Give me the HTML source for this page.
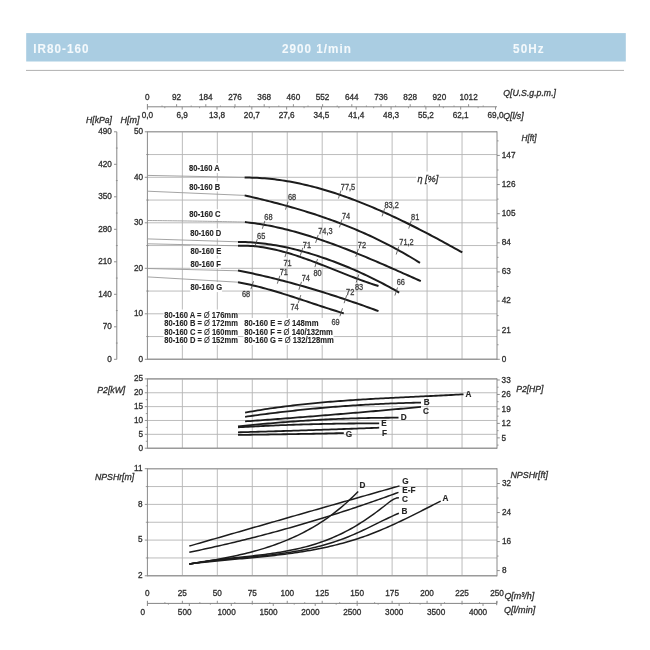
<!DOCTYPE html>
<html><head><meta charset="utf-8"><title>IR80-160</title>
<style>
html,body{margin:0;padding:0;background:#fff;}
svg{display:block;font-family:"Liberation Sans", sans-serif;fill:#2f2f2f;will-change:transform;}
</style></head>
<body>
<svg width="650" height="650" viewBox="0 0 650 650">
<rect width="650" height="650" fill="#fff"/>
<g fill="#2f2f2f" font-family='"Liberation Sans", sans-serif'>
<rect x="26.2" y="33.1" width="599.6" height="28.4" fill="#aacde2"/>
<text transform="translate(33.30,52.80) scale(0.86,1)" font-size="13.6" font-weight="bold" fill="#f4f9fc" textLength="64.19" lengthAdjust="spacing" stroke="#f4f9fc" stroke-width="0.1">IR80-160</text>
<text transform="translate(282.00,52.80) scale(0.86,1)" font-size="13.6" font-weight="bold" fill="#f4f9fc" textLength="80.00" lengthAdjust="spacing" stroke="#f4f9fc" stroke-width="0.1">2900 1/min</text>
<text transform="translate(513.10,52.80) scale(0.86,1)" font-size="13.6" font-weight="bold" fill="#f4f9fc" textLength="35.35" lengthAdjust="spacing" stroke="#f4f9fc" stroke-width="0.1">50Hz</text>
<line x1="26.00" y1="70.40" x2="624.00" y2="70.40" stroke="#b0b0b0" stroke-width="1"/>
<line x1="182.36" y1="131.80" x2="182.36" y2="359.30" stroke="#b4b4b4" stroke-width="0.9"/>
<line x1="217.32" y1="131.80" x2="217.32" y2="359.30" stroke="#b4b4b4" stroke-width="0.9"/>
<line x1="252.28" y1="131.80" x2="252.28" y2="359.30" stroke="#b4b4b4" stroke-width="0.9"/>
<line x1="287.24" y1="131.80" x2="287.24" y2="359.30" stroke="#b4b4b4" stroke-width="0.9"/>
<line x1="322.20" y1="131.80" x2="322.20" y2="359.30" stroke="#b4b4b4" stroke-width="0.9"/>
<line x1="357.16" y1="131.80" x2="357.16" y2="359.30" stroke="#b4b4b4" stroke-width="0.9"/>
<line x1="392.12" y1="131.80" x2="392.12" y2="359.30" stroke="#b4b4b4" stroke-width="0.9"/>
<line x1="427.08" y1="131.80" x2="427.08" y2="359.30" stroke="#b4b4b4" stroke-width="0.9"/>
<line x1="462.04" y1="131.80" x2="462.04" y2="359.30" stroke="#b4b4b4" stroke-width="0.9"/>
<line x1="147.40" y1="336.55" x2="497.00" y2="336.55" stroke="#b4b4b4" stroke-width="0.9"/>
<line x1="147.40" y1="313.80" x2="497.00" y2="313.80" stroke="#b4b4b4" stroke-width="0.9"/>
<line x1="147.40" y1="291.05" x2="497.00" y2="291.05" stroke="#b4b4b4" stroke-width="0.9"/>
<line x1="147.40" y1="268.30" x2="497.00" y2="268.30" stroke="#b4b4b4" stroke-width="0.9"/>
<line x1="147.40" y1="245.55" x2="497.00" y2="245.55" stroke="#b4b4b4" stroke-width="0.9"/>
<line x1="147.40" y1="222.80" x2="497.00" y2="222.80" stroke="#b4b4b4" stroke-width="0.9"/>
<line x1="147.40" y1="200.05" x2="497.00" y2="200.05" stroke="#b4b4b4" stroke-width="0.9"/>
<line x1="147.40" y1="177.30" x2="497.00" y2="177.30" stroke="#b4b4b4" stroke-width="0.9"/>
<line x1="147.40" y1="154.55" x2="497.00" y2="154.55" stroke="#b4b4b4" stroke-width="0.9"/>
<line x1="147.40" y1="131.80" x2="497.00" y2="131.80" stroke="#a4a4a4" stroke-width="1.6"/>
<line x1="147.40" y1="359.30" x2="497.00" y2="359.30" stroke="#9a9a9a" stroke-width="1.4"/>
<line x1="147.40" y1="131.30" x2="147.40" y2="359.80" stroke="#8a8a8a" stroke-width="1.0"/>
<line x1="497.00" y1="131.30" x2="497.00" y2="359.80" stroke="#8a8a8a" stroke-width="1.0"/>
<line x1="144.80" y1="359.30" x2="147.40" y2="359.30" stroke="#858585" stroke-width="0.9"/>
<text x="143.00" y="361.64" font-size="8.2" text-anchor="end" stroke="#2f2f2f" stroke-width="0.3">0</text>
<line x1="144.80" y1="313.80" x2="147.40" y2="313.80" stroke="#858585" stroke-width="0.9"/>
<text x="143.00" y="316.14" font-size="8.2" text-anchor="end" stroke="#2f2f2f" stroke-width="0.3">10</text>
<line x1="144.80" y1="268.30" x2="147.40" y2="268.30" stroke="#858585" stroke-width="0.9"/>
<text x="143.00" y="270.64" font-size="8.2" text-anchor="end" stroke="#2f2f2f" stroke-width="0.3">20</text>
<line x1="144.80" y1="222.80" x2="147.40" y2="222.80" stroke="#858585" stroke-width="0.9"/>
<text x="143.00" y="225.14" font-size="8.2" text-anchor="end" stroke="#2f2f2f" stroke-width="0.3">30</text>
<line x1="144.80" y1="177.30" x2="147.40" y2="177.30" stroke="#858585" stroke-width="0.9"/>
<text x="143.00" y="179.64" font-size="8.2" text-anchor="end" stroke="#2f2f2f" stroke-width="0.3">40</text>
<line x1="144.80" y1="131.80" x2="147.40" y2="131.80" stroke="#858585" stroke-width="0.9"/>
<text x="143.00" y="134.14" font-size="8.2" text-anchor="end" stroke="#2f2f2f" stroke-width="0.3">50</text>
<line x1="146.20" y1="336.55" x2="148.60" y2="336.55" stroke="#858585" stroke-width="0.8"/>
<line x1="146.20" y1="291.05" x2="148.60" y2="291.05" stroke="#858585" stroke-width="0.8"/>
<line x1="146.20" y1="245.55" x2="148.60" y2="245.55" stroke="#858585" stroke-width="0.8"/>
<line x1="146.20" y1="200.05" x2="148.60" y2="200.05" stroke="#858585" stroke-width="0.8"/>
<line x1="146.20" y1="154.55" x2="148.60" y2="154.55" stroke="#858585" stroke-width="0.8"/>
<line x1="116.80" y1="131.80" x2="116.80" y2="359.30" stroke="#858585" stroke-width="1.0"/>
<line x1="114.00" y1="359.30" x2="116.80" y2="359.30" stroke="#858585" stroke-width="0.9"/>
<text x="111.80" y="361.64" font-size="8.2" text-anchor="end" stroke="#2f2f2f" stroke-width="0.3">0</text>
<line x1="114.00" y1="326.80" x2="116.80" y2="326.80" stroke="#858585" stroke-width="0.9"/>
<text x="111.80" y="329.14" font-size="8.2" text-anchor="end" stroke="#2f2f2f" stroke-width="0.3">70</text>
<line x1="114.00" y1="294.30" x2="116.80" y2="294.30" stroke="#858585" stroke-width="0.9"/>
<text x="111.80" y="296.64" font-size="8.2" text-anchor="end" stroke="#2f2f2f" stroke-width="0.3">140</text>
<line x1="114.00" y1="261.80" x2="116.80" y2="261.80" stroke="#858585" stroke-width="0.9"/>
<text x="111.80" y="264.14" font-size="8.2" text-anchor="end" stroke="#2f2f2f" stroke-width="0.3">210</text>
<line x1="114.00" y1="229.30" x2="116.80" y2="229.30" stroke="#858585" stroke-width="0.9"/>
<text x="111.80" y="231.64" font-size="8.2" text-anchor="end" stroke="#2f2f2f" stroke-width="0.3">280</text>
<line x1="114.00" y1="196.80" x2="116.80" y2="196.80" stroke="#858585" stroke-width="0.9"/>
<text x="111.80" y="199.14" font-size="8.2" text-anchor="end" stroke="#2f2f2f" stroke-width="0.3">350</text>
<line x1="114.00" y1="164.30" x2="116.80" y2="164.30" stroke="#858585" stroke-width="0.9"/>
<text x="111.80" y="166.64" font-size="8.2" text-anchor="end" stroke="#2f2f2f" stroke-width="0.3">420</text>
<line x1="114.00" y1="131.80" x2="116.80" y2="131.80" stroke="#858585" stroke-width="0.9"/>
<text x="111.80" y="134.14" font-size="8.2" text-anchor="end" stroke="#2f2f2f" stroke-width="0.3">490</text>
<line x1="115.90" y1="343.05" x2="117.70" y2="343.05" stroke="#858585" stroke-width="0.8"/>
<line x1="115.90" y1="310.55" x2="117.70" y2="310.55" stroke="#858585" stroke-width="0.8"/>
<line x1="115.90" y1="278.05" x2="117.70" y2="278.05" stroke="#858585" stroke-width="0.8"/>
<line x1="115.90" y1="245.55" x2="117.70" y2="245.55" stroke="#858585" stroke-width="0.8"/>
<line x1="115.90" y1="213.05" x2="117.70" y2="213.05" stroke="#858585" stroke-width="0.8"/>
<line x1="115.90" y1="180.55" x2="117.70" y2="180.55" stroke="#858585" stroke-width="0.8"/>
<line x1="115.90" y1="148.05" x2="117.70" y2="148.05" stroke="#858585" stroke-width="0.8"/>
<text x="86.00" y="123.00" font-size="8.8" font-style="italic" textLength="26.00" lengthAdjust="spacingAndGlyphs" stroke="#2f2f2f" stroke-width="0.3">H[kPa]</text>
<text x="120.50" y="123.00" font-size="8.8" font-style="italic" textLength="19.00" lengthAdjust="spacingAndGlyphs" stroke="#2f2f2f" stroke-width="0.3">H[m]</text>
<line x1="497.00" y1="359.30" x2="499.80" y2="359.30" stroke="#858585" stroke-width="0.9"/>
<text x="501.80" y="361.64" font-size="8.2" stroke="#2f2f2f" stroke-width="0.3">0</text>
<line x1="497.00" y1="330.18" x2="499.80" y2="330.18" stroke="#858585" stroke-width="0.9"/>
<text x="501.80" y="332.51" font-size="8.2" stroke="#2f2f2f" stroke-width="0.3">21</text>
<line x1="497.00" y1="301.05" x2="499.80" y2="301.05" stroke="#858585" stroke-width="0.9"/>
<text x="501.80" y="303.39" font-size="8.2" stroke="#2f2f2f" stroke-width="0.3">42</text>
<line x1="497.00" y1="271.93" x2="499.80" y2="271.93" stroke="#858585" stroke-width="0.9"/>
<text x="501.80" y="274.26" font-size="8.2" stroke="#2f2f2f" stroke-width="0.3">63</text>
<line x1="497.00" y1="242.81" x2="499.80" y2="242.81" stroke="#858585" stroke-width="0.9"/>
<text x="501.80" y="245.14" font-size="8.2" stroke="#2f2f2f" stroke-width="0.3">84</text>
<line x1="497.00" y1="213.68" x2="499.80" y2="213.68" stroke="#858585" stroke-width="0.9"/>
<text x="501.80" y="216.02" font-size="8.2" stroke="#2f2f2f" stroke-width="0.3">105</text>
<line x1="497.00" y1="184.56" x2="499.80" y2="184.56" stroke="#858585" stroke-width="0.9"/>
<text x="501.80" y="186.89" font-size="8.2" stroke="#2f2f2f" stroke-width="0.3">126</text>
<line x1="497.00" y1="155.43" x2="499.80" y2="155.43" stroke="#858585" stroke-width="0.9"/>
<text x="501.80" y="157.77" font-size="8.2" stroke="#2f2f2f" stroke-width="0.3">147</text>
<line x1="497.00" y1="344.74" x2="498.60" y2="344.74" stroke="#858585" stroke-width="0.8"/>
<line x1="497.00" y1="315.61" x2="498.60" y2="315.61" stroke="#858585" stroke-width="0.8"/>
<line x1="497.00" y1="286.49" x2="498.60" y2="286.49" stroke="#858585" stroke-width="0.8"/>
<line x1="497.00" y1="257.37" x2="498.60" y2="257.37" stroke="#858585" stroke-width="0.8"/>
<line x1="497.00" y1="228.24" x2="498.60" y2="228.24" stroke="#858585" stroke-width="0.8"/>
<line x1="497.00" y1="199.12" x2="498.60" y2="199.12" stroke="#858585" stroke-width="0.8"/>
<line x1="497.00" y1="170.00" x2="498.60" y2="170.00" stroke="#858585" stroke-width="0.8"/>
<line x1="497.00" y1="140.87" x2="498.60" y2="140.87" stroke="#858585" stroke-width="0.8"/>
<text x="521.50" y="140.85" font-size="8.8" font-style="italic" textLength="15.10" lengthAdjust="spacingAndGlyphs" stroke="#2f2f2f" stroke-width="0.3">H[ft]</text>
<line x1="147.40" y1="106.80" x2="497.00" y2="106.80" stroke="#858585" stroke-width="1.0"/>
<line x1="147.40" y1="104.00" x2="147.40" y2="109.60" stroke="#858585" stroke-width="1.0"/>
<line x1="176.60" y1="104.20" x2="176.60" y2="106.80" stroke="#858585" stroke-width="0.9"/>
<line x1="205.80" y1="104.20" x2="205.80" y2="106.80" stroke="#858585" stroke-width="0.9"/>
<line x1="235.00" y1="104.20" x2="235.00" y2="106.80" stroke="#858585" stroke-width="0.9"/>
<line x1="264.20" y1="104.20" x2="264.20" y2="106.80" stroke="#858585" stroke-width="0.9"/>
<line x1="293.40" y1="104.20" x2="293.40" y2="106.80" stroke="#858585" stroke-width="0.9"/>
<line x1="322.60" y1="104.20" x2="322.60" y2="106.80" stroke="#858585" stroke-width="0.9"/>
<line x1="351.80" y1="104.20" x2="351.80" y2="106.80" stroke="#858585" stroke-width="0.9"/>
<line x1="381.00" y1="104.20" x2="381.00" y2="106.80" stroke="#858585" stroke-width="0.9"/>
<line x1="410.20" y1="104.20" x2="410.20" y2="106.80" stroke="#858585" stroke-width="0.9"/>
<line x1="439.40" y1="104.20" x2="439.40" y2="106.80" stroke="#858585" stroke-width="0.9"/>
<line x1="468.60" y1="104.20" x2="468.60" y2="106.80" stroke="#858585" stroke-width="0.9"/>
<line x1="162.00" y1="105.50" x2="162.00" y2="106.80" stroke="#858585" stroke-width="0.8"/>
<line x1="191.20" y1="105.50" x2="191.20" y2="106.80" stroke="#858585" stroke-width="0.8"/>
<line x1="220.40" y1="105.50" x2="220.40" y2="106.80" stroke="#858585" stroke-width="0.8"/>
<line x1="249.60" y1="105.50" x2="249.60" y2="106.80" stroke="#858585" stroke-width="0.8"/>
<line x1="278.80" y1="105.50" x2="278.80" y2="106.80" stroke="#858585" stroke-width="0.8"/>
<line x1="308.00" y1="105.50" x2="308.00" y2="106.80" stroke="#858585" stroke-width="0.8"/>
<line x1="337.20" y1="105.50" x2="337.20" y2="106.80" stroke="#858585" stroke-width="0.8"/>
<line x1="366.40" y1="105.50" x2="366.40" y2="106.80" stroke="#858585" stroke-width="0.8"/>
<line x1="395.60" y1="105.50" x2="395.60" y2="106.80" stroke="#858585" stroke-width="0.8"/>
<line x1="424.80" y1="105.50" x2="424.80" y2="106.80" stroke="#858585" stroke-width="0.8"/>
<line x1="454.00" y1="105.50" x2="454.00" y2="106.80" stroke="#858585" stroke-width="0.8"/>
<line x1="483.20" y1="105.50" x2="483.20" y2="106.80" stroke="#858585" stroke-width="0.8"/>
<line x1="182.21" y1="106.80" x2="182.21" y2="109.60" stroke="#858585" stroke-width="0.9"/>
<line x1="217.02" y1="106.80" x2="217.02" y2="109.60" stroke="#858585" stroke-width="0.9"/>
<line x1="251.83" y1="106.80" x2="251.83" y2="109.60" stroke="#858585" stroke-width="0.9"/>
<line x1="286.64" y1="106.80" x2="286.64" y2="109.60" stroke="#858585" stroke-width="0.9"/>
<line x1="321.45" y1="106.80" x2="321.45" y2="109.60" stroke="#858585" stroke-width="0.9"/>
<line x1="356.26" y1="106.80" x2="356.26" y2="109.60" stroke="#858585" stroke-width="0.9"/>
<line x1="391.07" y1="106.80" x2="391.07" y2="109.60" stroke="#858585" stroke-width="0.9"/>
<line x1="425.88" y1="106.80" x2="425.88" y2="109.60" stroke="#858585" stroke-width="0.9"/>
<line x1="460.69" y1="106.80" x2="460.69" y2="109.60" stroke="#858585" stroke-width="0.9"/>
<line x1="495.50" y1="106.80" x2="495.50" y2="109.60" stroke="#858585" stroke-width="0.9"/>
<line x1="164.81" y1="106.80" x2="164.81" y2="108.20" stroke="#858585" stroke-width="0.8"/>
<line x1="199.62" y1="106.80" x2="199.62" y2="108.20" stroke="#858585" stroke-width="0.8"/>
<line x1="234.43" y1="106.80" x2="234.43" y2="108.20" stroke="#858585" stroke-width="0.8"/>
<line x1="269.24" y1="106.80" x2="269.24" y2="108.20" stroke="#858585" stroke-width="0.8"/>
<line x1="304.05" y1="106.80" x2="304.05" y2="108.20" stroke="#858585" stroke-width="0.8"/>
<line x1="338.86" y1="106.80" x2="338.86" y2="108.20" stroke="#858585" stroke-width="0.8"/>
<line x1="373.67" y1="106.80" x2="373.67" y2="108.20" stroke="#858585" stroke-width="0.8"/>
<line x1="408.48" y1="106.80" x2="408.48" y2="108.20" stroke="#858585" stroke-width="0.8"/>
<line x1="443.29" y1="106.80" x2="443.29" y2="108.20" stroke="#858585" stroke-width="0.8"/>
<line x1="478.10" y1="106.80" x2="478.10" y2="108.20" stroke="#858585" stroke-width="0.8"/>
<text x="147.40" y="99.54" font-size="8.2" text-anchor="middle" stroke="#2f2f2f" stroke-width="0.3">0</text>
<text x="176.60" y="99.54" font-size="8.2" text-anchor="middle" stroke="#2f2f2f" stroke-width="0.3">92</text>
<text x="205.80" y="99.54" font-size="8.2" text-anchor="middle" stroke="#2f2f2f" stroke-width="0.3">184</text>
<text x="235.00" y="99.54" font-size="8.2" text-anchor="middle" stroke="#2f2f2f" stroke-width="0.3">276</text>
<text x="264.20" y="99.54" font-size="8.2" text-anchor="middle" stroke="#2f2f2f" stroke-width="0.3">368</text>
<text x="293.40" y="99.54" font-size="8.2" text-anchor="middle" stroke="#2f2f2f" stroke-width="0.3">460</text>
<text x="322.60" y="99.54" font-size="8.2" text-anchor="middle" stroke="#2f2f2f" stroke-width="0.3">552</text>
<text x="351.80" y="99.54" font-size="8.2" text-anchor="middle" stroke="#2f2f2f" stroke-width="0.3">644</text>
<text x="381.00" y="99.54" font-size="8.2" text-anchor="middle" stroke="#2f2f2f" stroke-width="0.3">736</text>
<text x="410.20" y="99.54" font-size="8.2" text-anchor="middle" stroke="#2f2f2f" stroke-width="0.3">828</text>
<text x="439.40" y="99.54" font-size="8.2" text-anchor="middle" stroke="#2f2f2f" stroke-width="0.3">920</text>
<text x="468.60" y="99.54" font-size="8.2" text-anchor="middle" stroke="#2f2f2f" stroke-width="0.3">1012</text>
<text x="147.40" y="118.24" font-size="8.2" text-anchor="middle" stroke="#2f2f2f" stroke-width="0.3">0,0</text>
<text x="182.21" y="118.24" font-size="8.2" text-anchor="middle" stroke="#2f2f2f" stroke-width="0.3">6,9</text>
<text x="217.02" y="118.24" font-size="8.2" text-anchor="middle" stroke="#2f2f2f" stroke-width="0.3">13,8</text>
<text x="251.83" y="118.24" font-size="8.2" text-anchor="middle" stroke="#2f2f2f" stroke-width="0.3">20,7</text>
<text x="286.64" y="118.24" font-size="8.2" text-anchor="middle" stroke="#2f2f2f" stroke-width="0.3">27,6</text>
<text x="321.45" y="118.24" font-size="8.2" text-anchor="middle" stroke="#2f2f2f" stroke-width="0.3">34,5</text>
<text x="356.26" y="118.24" font-size="8.2" text-anchor="middle" stroke="#2f2f2f" stroke-width="0.3">41,4</text>
<text x="391.07" y="118.24" font-size="8.2" text-anchor="middle" stroke="#2f2f2f" stroke-width="0.3">48,3</text>
<text x="425.88" y="118.24" font-size="8.2" text-anchor="middle" stroke="#2f2f2f" stroke-width="0.3">55,2</text>
<text x="460.69" y="118.24" font-size="8.2" text-anchor="middle" stroke="#2f2f2f" stroke-width="0.3">62,1</text>
<text x="495.50" y="118.24" font-size="8.2" text-anchor="middle" stroke="#2f2f2f" stroke-width="0.3">69,0</text>
<text x="503.20" y="95.95" font-size="8.8" font-style="italic" textLength="52.80" lengthAdjust="spacingAndGlyphs" stroke="#2f2f2f" stroke-width="0.3">Q[U.S.g.p.m.]</text>
<text x="503.20" y="119.05" font-size="8.8" font-style="italic" textLength="20.50" lengthAdjust="spacingAndGlyphs" stroke="#2f2f2f" stroke-width="0.3">Q[l/s]</text>
<rect x="188.80" y="163.00" width="31.00" height="10.0" fill="#fff"/>
<text x="189.00" y="171.08" font-size="8.6" font-weight="bold" fill="#262626" textLength="30.80" lengthAdjust="spacingAndGlyphs" stroke="#262626" stroke-width="0.15">80-160 A</text>
<rect x="189.10" y="181.50" width="31.00" height="10.0" fill="#fff"/>
<text x="189.30" y="189.58" font-size="8.6" font-weight="bold" fill="#262626" textLength="30.80" lengthAdjust="spacingAndGlyphs" stroke="#262626" stroke-width="0.15">80-160 B</text>
<rect x="189.10" y="209.20" width="31.40" height="10.0" fill="#fff"/>
<text x="189.30" y="217.28" font-size="8.6" font-weight="bold" fill="#262626" textLength="31.20" lengthAdjust="spacingAndGlyphs" stroke="#262626" stroke-width="0.15">80-160 C</text>
<rect x="190.00" y="228.40" width="31.30" height="10.0" fill="#fff"/>
<text x="190.20" y="236.48" font-size="8.6" font-weight="bold" fill="#262626" textLength="31.10" lengthAdjust="spacingAndGlyphs" stroke="#262626" stroke-width="0.15">80-160 D</text>
<rect x="190.30" y="245.50" width="31.00" height="10.0" fill="#fff"/>
<text x="190.50" y="253.58" font-size="8.6" font-weight="bold" fill="#262626" textLength="30.80" lengthAdjust="spacingAndGlyphs" stroke="#262626" stroke-width="0.15">80-160 E</text>
<rect x="190.30" y="258.50" width="30.70" height="10.0" fill="#fff"/>
<text x="190.50" y="266.58" font-size="8.6" font-weight="bold" fill="#262626" textLength="30.50" lengthAdjust="spacingAndGlyphs" stroke="#262626" stroke-width="0.15">80-160 F</text>
<rect x="190.30" y="282.10" width="31.80" height="10.0" fill="#fff"/>
<text x="190.50" y="290.18" font-size="8.6" font-weight="bold" fill="#262626" textLength="31.60" lengthAdjust="spacingAndGlyphs" stroke="#262626" stroke-width="0.15">80-160 G</text>
<path d="M147.40,175.40 L244.60,177.40" fill="none" stroke="#9a9a9a" stroke-width="0.9" stroke-linecap="butt" stroke-linejoin="round"/>
<path d="M147.40,191.20 L244.60,195.40" fill="none" stroke="#9a9a9a" stroke-width="0.9" stroke-linecap="butt" stroke-linejoin="round"/>
<path d="M147.40,220.50 L149.90,220.52 L152.40,220.55 L154.90,220.57 L157.40,220.60 L159.90,220.62 L162.40,220.65 L164.90,220.68 L167.40,220.71 L169.90,220.74 L172.40,220.77 L174.90,220.80 L177.40,220.84 L179.90,220.87 L182.40,220.91 L184.90,220.94 L187.40,220.98 L189.90,221.02 L192.40,221.06 L194.90,221.10 L197.40,221.14 L199.90,221.18 L202.40,221.22 L204.90,221.27 L207.40,221.31 L209.90,221.36 L212.40,221.41 L214.90,221.45 L217.40,221.50 L219.90,221.55 L222.40,221.60 L224.90,221.65 L227.40,221.71 L229.90,221.76 L232.40,221.81 L234.90,221.87 L237.40,221.93 L239.90,221.98 L242.40,222.04 L244.90,222.10" fill="none" stroke="#9a9a9a" stroke-width="0.9" stroke-linecap="butt" stroke-linejoin="round"/>
<path d="M147.40,238.90 L238.00,241.80" fill="none" stroke="#9a9a9a" stroke-width="0.9" stroke-linecap="butt" stroke-linejoin="round"/>
<path d="M147.40,243.80 L238.00,245.80" fill="none" stroke="#9a9a9a" stroke-width="0.9" stroke-linecap="butt" stroke-linejoin="round"/>
<path d="M147.40,268.50 L238.00,270.80" fill="none" stroke="#9a9a9a" stroke-width="0.9" stroke-linecap="butt" stroke-linejoin="round"/>
<path d="M147.40,276.90 L238.00,282.20" fill="none" stroke="#9a9a9a" stroke-width="0.9" stroke-linecap="butt" stroke-linejoin="round"/>
<rect x="163.5" y="309.5" width="74.2" height="35.5" fill="#fff"/>
<rect x="243.4" y="318.0" width="90.2" height="27.0" fill="#fff"/>
<text x="164.30" y="317.80" font-size="8.5" font-weight="bold" fill="#262626" stroke="#262626" stroke-width="0.12" textLength="73.60" lengthAdjust="spacingAndGlyphs">80-160 A = <tspan font-weight="normal">Ø</tspan> 176mm</text>
<text x="164.30" y="326.30" font-size="8.5" font-weight="bold" fill="#262626" stroke="#262626" stroke-width="0.12" textLength="73.60" lengthAdjust="spacingAndGlyphs">80-160 B = <tspan font-weight="normal">Ø</tspan> 172mm</text>
<text x="164.30" y="334.70" font-size="8.5" font-weight="bold" fill="#262626" stroke="#262626" stroke-width="0.12" textLength="73.60" lengthAdjust="spacingAndGlyphs">80-160 C = <tspan font-weight="normal">Ø</tspan> 160mm</text>
<text x="164.30" y="343.20" font-size="8.5" font-weight="bold" fill="#262626" stroke="#262626" stroke-width="0.12" textLength="73.60" lengthAdjust="spacingAndGlyphs">80-160 D = <tspan font-weight="normal">Ø</tspan> 152mm</text>
<text x="244.20" y="326.30" font-size="8.5" font-weight="bold" fill="#262626" stroke="#262626" stroke-width="0.12" textLength="74.30" lengthAdjust="spacingAndGlyphs">80-160 E = <tspan font-weight="normal">Ø</tspan> 148mm</text>
<text x="244.20" y="334.70" font-size="8.5" font-weight="bold" fill="#262626" stroke="#262626" stroke-width="0.12" textLength="88.70" lengthAdjust="spacingAndGlyphs">80-160 F = <tspan font-weight="normal">Ø</tspan> 140/132mm</text>
<text x="244.20" y="343.20" font-size="8.5" font-weight="bold" fill="#262626" stroke="#262626" stroke-width="0.12" textLength="89.60" lengthAdjust="spacingAndGlyphs">80-160 G = <tspan font-weight="normal">Ø</tspan> 132/128mm</text>
<path d="M244.60,177.53 L247.10,177.54 L249.60,177.57 L252.11,177.63 L254.61,177.72 L257.11,177.83 L259.61,177.97 L262.12,178.14 L264.62,178.33 L267.12,178.55 L269.62,178.79 L272.13,179.06 L274.63,179.35 L277.13,179.66 L279.63,180.00 L282.13,180.37 L284.64,180.75 L287.14,181.17 L289.64,181.60 L292.14,182.06 L294.65,182.54 L297.15,183.04 L299.65,183.56 L302.15,184.11 L304.66,184.67 L307.16,185.26 L309.66,185.87 L312.16,186.50 L314.66,187.15 L317.17,187.82 L319.67,188.51 L322.17,189.22 L324.67,189.95 L327.18,190.70 L329.68,191.47 L332.18,192.25 L334.68,193.06 L337.19,193.88 L339.69,194.72 L342.19,195.58 L344.69,196.46 L347.19,197.35 L349.70,198.26 L352.20,199.19 L354.70,200.13 L357.20,201.09 L359.71,202.06 L362.21,203.06 L364.71,204.06 L367.21,205.08 L369.71,206.12 L372.22,207.17 L374.72,208.23 L377.22,209.31 L379.72,210.40 L382.23,211.51 L384.73,212.63 L387.23,213.76 L389.73,214.90 L392.24,216.06 L394.74,217.23 L397.24,218.41 L399.74,219.60 L402.24,220.81 L404.75,222.02 L407.25,223.25 L409.75,224.49 L412.25,225.74 L414.76,226.99 L417.26,228.26 L419.76,229.54 L422.26,230.83 L424.77,232.12 L427.27,233.43 L429.77,234.74 L432.27,236.06 L434.77,237.39 L437.28,238.73 L439.78,240.07 L442.28,241.42 L444.78,242.78 L447.29,244.15 L449.79,245.52 L452.29,246.90 L454.79,248.29 L457.30,249.68 L459.80,251.07 L462.30,252.47" fill="none" stroke="#1c1c1c" stroke-width="2.0" stroke-linecap="butt" stroke-linejoin="round"/>
<path d="M244.60,195.39 L247.11,195.96 L249.61,196.53 L252.12,197.12 L254.62,197.71 L257.13,198.30 L259.63,198.90 L262.14,199.51 L264.65,200.13 L267.15,200.75 L269.66,201.38 L272.16,202.02 L274.67,202.66 L277.17,203.32 L279.68,203.98 L282.19,204.65 L284.69,205.34 L287.20,206.03 L289.70,206.73 L292.21,207.44 L294.71,208.16 L297.22,208.89 L299.73,209.63 L302.23,210.38 L304.74,211.15 L307.24,211.92 L309.75,212.71 L312.25,213.51 L314.76,214.32 L317.27,215.14 L319.77,215.98 L322.28,216.83 L324.78,217.69 L327.29,218.57 L329.79,219.46 L332.30,220.36 L334.81,221.28 L337.31,222.21 L339.82,223.16 L342.32,224.12 L344.83,225.10 L347.33,226.09 L349.84,227.10 L352.35,228.13 L354.85,229.17 L357.36,230.23 L359.86,231.31 L362.37,232.40 L364.87,233.51 L367.38,234.64 L369.89,235.78 L372.39,236.94 L374.90,238.13 L377.40,239.33 L379.91,240.55 L382.41,241.79 L384.92,243.04 L387.43,244.32 L389.93,245.62 L392.44,246.94 L394.94,248.28 L397.45,249.64 L399.95,251.02 L402.46,252.42 L404.97,253.84 L407.47,255.29 L409.98,256.75 L412.48,258.24 L414.99,259.75 L417.49,261.29 L420.00,262.84" fill="none" stroke="#1c1c1c" stroke-width="2.0" stroke-linecap="butt" stroke-linejoin="round"/>
<path d="M244.90,222.11 L247.41,222.38 L249.93,222.66 L252.44,222.98 L254.95,223.32 L257.46,223.68 L259.98,224.07 L262.49,224.48 L265.00,224.91 L267.52,225.37 L270.03,225.85 L272.54,226.35 L275.05,226.88 L277.57,227.42 L280.08,227.99 L282.59,228.58 L285.11,229.19 L287.62,229.81 L290.13,230.46 L292.64,231.12 L295.16,231.81 L297.67,232.51 L300.18,233.23 L302.70,233.97 L305.21,234.72 L307.72,235.50 L310.23,236.28 L312.75,237.09 L315.26,237.91 L317.77,238.74 L320.29,239.59 L322.80,240.45 L325.31,241.33 L327.82,242.22 L330.34,243.13 L332.85,244.04 L335.36,244.97 L337.88,245.91 L340.39,246.86 L342.90,247.83 L345.41,248.80 L347.93,249.79 L350.44,250.78 L352.95,251.79 L355.47,252.80 L357.98,253.82 L360.49,254.86 L363.00,255.89 L365.52,256.94 L368.03,258.00 L370.54,259.06 L373.06,260.12 L375.57,261.20 L378.08,262.28 L380.59,263.36 L383.11,264.45 L385.62,265.54 L388.13,266.64 L390.65,267.74 L393.16,268.85 L395.67,269.96 L398.18,271.07 L400.70,272.18 L403.21,273.29 L405.72,274.41 L408.24,275.53 L410.75,276.65 L413.26,277.76 L415.77,278.88 L418.29,280.00 L420.80,281.11" fill="none" stroke="#1c1c1c" stroke-width="2.0" stroke-linecap="butt" stroke-linejoin="round"/>
<path d="M238.00,241.95 L240.52,241.98 L243.04,242.03 L245.56,242.12 L248.07,242.23 L250.59,242.37 L253.11,242.54 L255.63,242.74 L258.15,242.96 L260.67,243.22 L263.19,243.50 L265.71,243.81 L268.23,244.14 L270.74,244.51 L273.26,244.90 L275.78,245.31 L278.30,245.76 L280.82,246.23 L283.34,246.73 L285.86,247.25 L288.38,247.80 L290.89,248.38 L293.41,248.98 L295.93,249.60 L298.45,250.25 L300.97,250.92 L303.49,251.62 L306.01,252.34 L308.52,253.08 L311.04,253.84 L313.56,254.62 L316.08,255.42 L318.60,256.24 L321.12,257.08 L323.64,257.93 L326.16,258.81 L328.68,259.70 L331.19,260.62 L333.71,261.55 L336.23,262.50 L338.75,263.47 L341.27,264.45 L343.79,265.46 L346.31,266.49 L348.82,267.53 L351.34,268.60 L353.86,269.68 L356.38,270.79 L358.90,271.91 L361.42,273.05 L363.94,274.22 L366.46,275.40 L368.98,276.60 L371.49,277.82 L374.01,279.07 L376.53,280.33 L379.05,281.61 L381.57,282.92 L384.09,284.24 L386.61,285.58 L389.12,286.95 L391.64,288.33 L394.16,289.74 L396.68,291.17 L399.20,292.62" fill="none" stroke="#1c1c1c" stroke-width="2.0" stroke-linecap="butt" stroke-linejoin="round"/>
<path d="M238.00,245.76 L240.51,245.69 L243.02,245.67 L245.53,245.70 L248.04,245.78 L250.54,245.92 L253.05,246.11 L255.56,246.34 L258.07,246.62 L260.58,246.95 L263.09,247.31 L265.60,247.73 L268.11,248.18 L270.62,248.67 L273.12,249.20 L275.63,249.76 L278.14,250.36 L280.65,251.00 L283.16,251.66 L285.67,252.36 L288.18,253.08 L290.69,253.83 L293.20,254.61 L295.71,255.41 L298.21,256.24 L300.72,257.09 L303.23,257.95 L305.74,258.84 L308.25,259.74 L310.76,260.66 L313.27,261.60 L315.78,262.54 L318.29,263.50 L320.79,264.47 L323.30,265.44 L325.81,266.43 L328.32,267.41 L330.83,268.41 L333.34,269.40 L335.85,270.40 L338.36,271.39 L340.87,272.38 L343.38,273.37 L345.88,274.36 L348.39,275.34 L350.90,276.31 L353.41,277.27 L355.92,278.22 L358.43,279.16 L360.94,280.09 L363.45,281.00 L365.96,281.89 L368.46,282.77 L370.97,283.63 L373.48,284.46 L375.99,285.27 L378.50,286.06" fill="none" stroke="#1c1c1c" stroke-width="2.0" stroke-linecap="butt" stroke-linejoin="round"/>
<path d="M238.00,270.48 L240.51,270.97 L243.02,271.48 L245.53,271.99 L248.04,272.52 L250.54,273.05 L253.05,273.59 L255.56,274.15 L258.07,274.71 L260.58,275.28 L263.09,275.86 L265.60,276.45 L268.11,277.04 L270.62,277.65 L273.12,278.27 L275.63,278.89 L278.14,279.52 L280.65,280.17 L283.16,280.82 L285.67,281.47 L288.18,282.14 L290.69,282.82 L293.20,283.50 L295.71,284.19 L298.21,284.89 L300.72,285.60 L303.23,286.32 L305.74,287.04 L308.25,287.77 L310.76,288.51 L313.27,289.26 L315.78,290.01 L318.29,290.77 L320.79,291.54 L323.30,292.32 L325.81,293.10 L328.32,293.89 L330.83,294.69 L333.34,295.50 L335.85,296.31 L338.36,297.13 L340.87,297.96 L343.38,298.79 L345.88,299.63 L348.39,300.47 L350.90,301.33 L353.41,302.18 L355.92,303.05 L358.43,303.92 L360.94,304.80 L363.45,305.68 L365.96,306.57 L368.46,307.47 L370.97,308.37 L373.48,309.28 L375.99,310.19 L378.50,311.11" fill="none" stroke="#1c1c1c" stroke-width="2.0" stroke-linecap="butt" stroke-linejoin="round"/>
<path d="M238.00,282.20 L240.52,282.68 L243.04,283.18 L245.56,283.70 L248.08,284.25 L250.60,284.82 L253.11,285.41 L255.63,286.02 L258.15,286.65 L260.67,287.30 L263.19,287.97 L265.71,288.65 L268.23,289.35 L270.75,290.07 L273.27,290.79 L275.79,291.54 L278.30,292.29 L280.82,293.06 L283.34,293.84 L285.86,294.62 L288.38,295.42 L290.90,296.23 L293.42,297.04 L295.94,297.85 L298.46,298.68 L300.98,299.51 L303.50,300.34 L306.01,301.17 L308.53,302.01 L311.05,302.84 L313.57,303.68 L316.09,304.52 L318.61,305.35 L321.13,306.18 L323.65,307.01 L326.17,307.83 L328.69,308.65 L331.20,309.46 L333.72,310.27 L336.24,311.07 L338.76,311.85 L341.28,312.63 L343.80,313.40" fill="none" stroke="#1c1c1c" stroke-width="2.0" stroke-linecap="butt" stroke-linejoin="round"/>
<line x1="285.50" y1="209.60" x2="288.10" y2="201.60" stroke="#444" stroke-width="0.8"/>
<text transform="translate(292.00,200.08) scale(0.86,1)" font-size="8.6" text-anchor="middle" fill="#3c3c3c" stroke="#3c3c3c" stroke-width="0.3">68</text>
<line x1="262.30" y1="228.80" x2="264.90" y2="220.80" stroke="#444" stroke-width="0.8"/>
<text transform="translate(268.40,220.48) scale(0.86,1)" font-size="8.6" text-anchor="middle" fill="#3c3c3c" stroke="#3c3c3c" stroke-width="0.3">68</text>
<line x1="254.70" y1="247.20" x2="257.30" y2="239.20" stroke="#444" stroke-width="0.8"/>
<text transform="translate(261.20,238.88) scale(0.86,1)" font-size="8.6" text-anchor="middle" fill="#3c3c3c" stroke="#3c3c3c" stroke-width="0.3">65</text>
<line x1="300.20" y1="255.80" x2="302.80" y2="247.80" stroke="#444" stroke-width="0.8"/>
<text transform="translate(306.90,247.58) scale(0.86,1)" font-size="8.6" text-anchor="middle" fill="#3c3c3c" stroke="#3c3c3c" stroke-width="0.3">71</text>
<line x1="315.60" y1="242.90" x2="318.20" y2="234.90" stroke="#444" stroke-width="0.8"/>
<text transform="translate(325.40,233.88) scale(0.86,1)" font-size="8.6" text-anchor="middle" fill="#3c3c3c" stroke="#3c3c3c" stroke-width="0.3">74,3</text>
<line x1="338.40" y1="198.50" x2="341.00" y2="190.50" stroke="#444" stroke-width="0.8"/>
<text transform="translate(348.00,190.28) scale(0.86,1)" font-size="8.6" text-anchor="middle" fill="#3c3c3c" stroke="#3c3c3c" stroke-width="0.3">77,5</text>
<line x1="339.40" y1="227.40" x2="342.00" y2="219.40" stroke="#444" stroke-width="0.8"/>
<text transform="translate(346.00,219.08) scale(0.86,1)" font-size="8.6" text-anchor="middle" fill="#3c3c3c" stroke="#3c3c3c" stroke-width="0.3">74</text>
<line x1="382.10" y1="216.30" x2="384.70" y2="208.30" stroke="#444" stroke-width="0.8"/>
<text transform="translate(391.70,207.78) scale(0.86,1)" font-size="8.6" text-anchor="middle" fill="#3c3c3c" stroke="#3c3c3c" stroke-width="0.3">83,2</text>
<line x1="408.70" y1="228.60" x2="411.30" y2="220.60" stroke="#444" stroke-width="0.8"/>
<text transform="translate(415.20,219.98) scale(0.86,1)" font-size="8.6" text-anchor="middle" fill="#3c3c3c" stroke="#3c3c3c" stroke-width="0.3">81</text>
<line x1="396.20" y1="254.50" x2="398.80" y2="246.50" stroke="#444" stroke-width="0.8"/>
<text transform="translate(406.50,245.38) scale(0.86,1)" font-size="8.6" text-anchor="middle" fill="#3c3c3c" stroke="#3c3c3c" stroke-width="0.3">71,2</text>
<line x1="355.70" y1="256.90" x2="358.30" y2="248.90" stroke="#444" stroke-width="0.8"/>
<text transform="translate(361.90,248.38) scale(0.86,1)" font-size="8.6" text-anchor="middle" fill="#3c3c3c" stroke="#3c3c3c" stroke-width="0.3">72</text>
<line x1="284.90" y1="257.10" x2="287.50" y2="249.10" stroke="#444" stroke-width="0.8"/>
<text transform="translate(287.60,265.98) scale(0.86,1)" font-size="8.6" text-anchor="middle" fill="#3c3c3c" stroke="#3c3c3c" stroke-width="0.3">71</text>
<line x1="314.90" y1="267.10" x2="317.50" y2="259.10" stroke="#444" stroke-width="0.8"/>
<text transform="translate(317.60,275.88) scale(0.86,1)" font-size="8.6" text-anchor="middle" fill="#3c3c3c" stroke="#3c3c3c" stroke-width="0.3">80</text>
<line x1="356.20" y1="282.50" x2="358.80" y2="274.50" stroke="#444" stroke-width="0.8"/>
<text transform="translate(359.10,289.98) scale(0.86,1)" font-size="8.6" text-anchor="middle" fill="#3c3c3c" stroke="#3c3c3c" stroke-width="0.3">83</text>
<line x1="394.90" y1="295.50" x2="397.50" y2="287.50" stroke="#444" stroke-width="0.8"/>
<text transform="translate(400.80,285.38) scale(0.86,1)" font-size="8.6" text-anchor="middle" fill="#3c3c3c" stroke="#3c3c3c" stroke-width="0.3">66</text>
<line x1="277.30" y1="283.70" x2="279.90" y2="275.70" stroke="#444" stroke-width="0.8"/>
<text transform="translate(283.80,275.38) scale(0.86,1)" font-size="8.6" text-anchor="middle" fill="#3c3c3c" stroke="#3c3c3c" stroke-width="0.3">71</text>
<line x1="298.90" y1="289.80" x2="301.50" y2="281.80" stroke="#444" stroke-width="0.8"/>
<text transform="translate(305.80,281.28) scale(0.86,1)" font-size="8.6" text-anchor="middle" fill="#3c3c3c" stroke="#3c3c3c" stroke-width="0.3">74</text>
<line x1="344.10" y1="303.20" x2="346.70" y2="295.20" stroke="#444" stroke-width="0.8"/>
<text transform="translate(350.20,294.88) scale(0.86,1)" font-size="8.6" text-anchor="middle" fill="#3c3c3c" stroke="#3c3c3c" stroke-width="0.3">72</text>
<line x1="250.90" y1="289.20" x2="253.50" y2="281.20" stroke="#444" stroke-width="0.8"/>
<text transform="translate(246.00,296.88) scale(0.86,1)" font-size="8.6" text-anchor="middle" fill="#3c3c3c" stroke="#3c3c3c" stroke-width="0.3">68</text>
<line x1="298.20" y1="303.10" x2="300.80" y2="295.10" stroke="#444" stroke-width="0.8"/>
<text transform="translate(294.60,310.48) scale(0.86,1)" font-size="8.6" text-anchor="middle" fill="#3c3c3c" stroke="#3c3c3c" stroke-width="0.3">74</text>
<line x1="339.90" y1="316.30" x2="342.50" y2="308.30" stroke="#444" stroke-width="0.8"/>
<text transform="translate(335.50,325.38) scale(0.86,1)" font-size="8.6" text-anchor="middle" fill="#3c3c3c" stroke="#3c3c3c" stroke-width="0.3">69</text>
<rect x="416.2" y="171.5" width="23" height="13" fill="#fff"/>
<text x="417.40" y="181.79" font-size="9.2" font-style="italic" stroke="#2f2f2f" stroke-width="0.3">η [%]</text>
<line x1="182.36" y1="378.90" x2="182.36" y2="448.20" stroke="#b4b4b4" stroke-width="0.9"/>
<line x1="217.32" y1="378.90" x2="217.32" y2="448.20" stroke="#b4b4b4" stroke-width="0.9"/>
<line x1="252.28" y1="378.90" x2="252.28" y2="448.20" stroke="#b4b4b4" stroke-width="0.9"/>
<line x1="287.24" y1="378.90" x2="287.24" y2="448.20" stroke="#b4b4b4" stroke-width="0.9"/>
<line x1="322.20" y1="378.90" x2="322.20" y2="448.20" stroke="#b4b4b4" stroke-width="0.9"/>
<line x1="357.16" y1="378.90" x2="357.16" y2="448.20" stroke="#b4b4b4" stroke-width="0.9"/>
<line x1="392.12" y1="378.90" x2="392.12" y2="448.20" stroke="#b4b4b4" stroke-width="0.9"/>
<line x1="427.08" y1="378.90" x2="427.08" y2="448.20" stroke="#b4b4b4" stroke-width="0.9"/>
<line x1="462.04" y1="378.90" x2="462.04" y2="448.20" stroke="#b4b4b4" stroke-width="0.9"/>
<line x1="147.40" y1="434.34" x2="497.00" y2="434.34" stroke="#b4b4b4" stroke-width="0.9"/>
<line x1="147.40" y1="420.48" x2="497.00" y2="420.48" stroke="#b4b4b4" stroke-width="0.9"/>
<line x1="147.40" y1="406.62" x2="497.00" y2="406.62" stroke="#b4b4b4" stroke-width="0.9"/>
<line x1="147.40" y1="392.76" x2="497.00" y2="392.76" stroke="#b4b4b4" stroke-width="0.9"/>
<line x1="147.40" y1="378.90" x2="497.00" y2="378.90" stroke="#a4a4a4" stroke-width="1.6"/>
<line x1="147.40" y1="448.20" x2="497.00" y2="448.20" stroke="#9a9a9a" stroke-width="1.4"/>
<line x1="147.40" y1="378.40" x2="147.40" y2="448.70" stroke="#8a8a8a" stroke-width="1.0"/>
<line x1="497.00" y1="378.40" x2="497.00" y2="448.70" stroke="#8a8a8a" stroke-width="1.0"/>
<line x1="144.80" y1="448.20" x2="147.40" y2="448.20" stroke="#858585" stroke-width="0.9"/>
<text x="143.00" y="450.54" font-size="8.2" text-anchor="end" stroke="#2f2f2f" stroke-width="0.3">0</text>
<line x1="144.80" y1="434.34" x2="147.40" y2="434.34" stroke="#858585" stroke-width="0.9"/>
<text x="143.00" y="436.68" font-size="8.2" text-anchor="end" stroke="#2f2f2f" stroke-width="0.3">5</text>
<line x1="144.80" y1="420.48" x2="147.40" y2="420.48" stroke="#858585" stroke-width="0.9"/>
<text x="143.00" y="422.82" font-size="8.2" text-anchor="end" stroke="#2f2f2f" stroke-width="0.3">10</text>
<line x1="144.80" y1="406.62" x2="147.40" y2="406.62" stroke="#858585" stroke-width="0.9"/>
<text x="143.00" y="408.96" font-size="8.2" text-anchor="end" stroke="#2f2f2f" stroke-width="0.3">15</text>
<line x1="144.80" y1="392.76" x2="147.40" y2="392.76" stroke="#858585" stroke-width="0.9"/>
<text x="143.00" y="395.10" font-size="8.2" text-anchor="end" stroke="#2f2f2f" stroke-width="0.3">20</text>
<line x1="144.80" y1="378.90" x2="147.40" y2="378.90" stroke="#858585" stroke-width="0.9"/>
<text x="143.00" y="381.24" font-size="8.2" text-anchor="end" stroke="#2f2f2f" stroke-width="0.3">25</text>
<line x1="145.80" y1="441.27" x2="147.40" y2="441.27" stroke="#858585" stroke-width="0.8"/>
<line x1="145.80" y1="427.41" x2="147.40" y2="427.41" stroke="#858585" stroke-width="0.8"/>
<line x1="145.80" y1="413.55" x2="147.40" y2="413.55" stroke="#858585" stroke-width="0.8"/>
<line x1="145.80" y1="399.69" x2="147.40" y2="399.69" stroke="#858585" stroke-width="0.8"/>
<line x1="145.80" y1="385.83" x2="147.40" y2="385.83" stroke="#858585" stroke-width="0.8"/>
<line x1="497.00" y1="437.86" x2="499.80" y2="437.86" stroke="#858585" stroke-width="0.9"/>
<text x="501.60" y="440.80" font-size="8.2" stroke="#2f2f2f" stroke-width="0.3">5</text>
<line x1="497.00" y1="423.40" x2="499.80" y2="423.40" stroke="#858585" stroke-width="0.9"/>
<text x="501.60" y="426.33" font-size="8.2" stroke="#2f2f2f" stroke-width="0.3">12</text>
<line x1="497.00" y1="408.93" x2="499.80" y2="408.93" stroke="#858585" stroke-width="0.9"/>
<text x="501.60" y="411.86" font-size="8.2" stroke="#2f2f2f" stroke-width="0.3">19</text>
<line x1="497.00" y1="394.46" x2="499.80" y2="394.46" stroke="#858585" stroke-width="0.9"/>
<text x="501.60" y="397.39" font-size="8.2" stroke="#2f2f2f" stroke-width="0.3">26</text>
<line x1="497.00" y1="379.99" x2="499.80" y2="379.99" stroke="#858585" stroke-width="0.9"/>
<text x="501.60" y="382.92" font-size="8.2" stroke="#2f2f2f" stroke-width="0.3">33</text>
<line x1="497.00" y1="445.10" x2="498.60" y2="445.10" stroke="#858585" stroke-width="0.8"/>
<line x1="497.00" y1="430.63" x2="498.60" y2="430.63" stroke="#858585" stroke-width="0.8"/>
<line x1="497.00" y1="416.16" x2="498.60" y2="416.16" stroke="#858585" stroke-width="0.8"/>
<line x1="497.00" y1="401.69" x2="498.60" y2="401.69" stroke="#858585" stroke-width="0.8"/>
<line x1="497.00" y1="387.22" x2="498.60" y2="387.22" stroke="#858585" stroke-width="0.8"/>
<text x="97.30" y="392.65" font-size="8.8" font-style="italic" textLength="28.00" lengthAdjust="spacingAndGlyphs" stroke="#2f2f2f" stroke-width="0.3">P2[kW]</text>
<text x="516.20" y="392.35" font-size="8.8" font-style="italic" textLength="27.20" lengthAdjust="spacingAndGlyphs" stroke="#2f2f2f" stroke-width="0.3">P2[HP]</text>
<path d="M245.10,412.60 L247.61,412.15 L250.12,411.70 L252.63,411.27 L255.14,410.84 L257.65,410.43 L260.16,410.02 L262.67,409.62 L265.18,409.23 L267.69,408.85 L270.20,408.48 L272.71,408.12 L275.22,407.76 L277.73,407.42 L280.24,407.08 L282.76,406.75 L285.27,406.42 L287.78,406.11 L290.29,405.80 L292.80,405.50 L295.31,405.21 L297.82,404.92 L300.33,404.64 L302.84,404.37 L305.35,404.10 L307.86,403.84 L310.37,403.59 L312.88,403.34 L315.39,403.10 L317.90,402.86 L320.41,402.63 L322.92,402.40 L325.43,402.19 L327.94,401.97 L330.45,401.76 L332.96,401.56 L335.47,401.36 L337.98,401.17 L340.49,400.98 L343.00,400.79 L345.51,400.61 L348.02,400.43 L350.53,400.26 L353.04,400.09 L355.56,399.93 L358.07,399.76 L360.58,399.61 L363.09,399.45 L365.60,399.30 L368.11,399.15 L370.62,399.00 L373.13,398.86 L375.64,398.72 L378.15,398.58 L380.66,398.44 L383.17,398.31 L385.68,398.18 L388.19,398.05 L390.70,397.92 L393.21,397.79 L395.72,397.67 L398.23,397.54 L400.74,397.42 L403.25,397.30 L405.76,397.18 L408.27,397.06 L410.78,396.94 L413.29,396.82 L415.80,396.70 L418.31,396.58 L420.82,396.46 L423.33,396.34 L425.84,396.22 L428.36,396.10 L430.87,395.98 L433.38,395.86 L435.89,395.74 L438.40,395.62 L440.91,395.49 L443.42,395.37 L445.93,395.24 L448.44,395.11 L450.95,394.98 L453.46,394.85 L455.97,394.72 L458.48,394.58 L460.99,394.44 L463.50,394.30" fill="none" stroke="#1c1c1c" stroke-width="1.8" stroke-linecap="butt" stroke-linejoin="round"/>
<path d="M245.10,416.80 L247.61,416.44 L250.13,416.09 L252.64,415.74 L255.15,415.40 L257.66,415.06 L260.18,414.72 L262.69,414.39 L265.20,414.06 L267.72,413.74 L270.23,413.42 L272.74,413.11 L275.25,412.80 L277.77,412.50 L280.28,412.20 L282.79,411.91 L285.31,411.62 L287.82,411.33 L290.33,411.05 L292.84,410.77 L295.36,410.50 L297.87,410.23 L300.38,409.97 L302.90,409.71 L305.41,409.45 L307.92,409.20 L310.43,408.96 L312.95,408.72 L315.46,408.48 L317.97,408.25 L320.49,408.02 L323.00,407.80 L325.51,407.58 L328.02,407.37 L330.54,407.16 L333.05,406.95 L335.56,406.75 L338.08,406.55 L340.59,406.36 L343.10,406.17 L345.61,405.99 L348.13,405.81 L350.64,405.64 L353.15,405.47 L355.67,405.31 L358.18,405.15 L360.69,404.99 L363.20,404.84 L365.72,404.69 L368.23,404.55 L370.74,404.41 L373.26,404.28 L375.77,404.15 L378.28,404.03 L380.79,403.91 L383.31,403.79 L385.82,403.68 L388.33,403.57 L390.85,403.47 L393.36,403.37 L395.87,403.28 L398.38,403.19 L400.90,403.11 L403.41,403.03 L405.92,402.96 L408.44,402.88 L410.95,402.82 L413.46,402.76 L415.97,402.70 L418.49,402.65 L421.00,402.60" fill="none" stroke="#1c1c1c" stroke-width="1.8" stroke-linecap="butt" stroke-linejoin="round"/>
<path d="M245.10,421.40 L247.61,421.22 L250.13,421.04 L252.64,420.86 L255.15,420.68 L257.66,420.50 L260.18,420.31 L262.69,420.13 L265.20,419.94 L267.72,419.76 L270.23,419.57 L272.74,419.39 L275.25,419.20 L277.77,419.01 L280.28,418.82 L282.79,418.63 L285.31,418.44 L287.82,418.25 L290.33,418.05 L292.84,417.86 L295.36,417.66 L297.87,417.47 L300.38,417.27 L302.90,417.08 L305.41,416.88 L307.92,416.68 L310.43,416.48 L312.95,416.28 L315.46,416.08 L317.97,415.88 L320.49,415.67 L323.00,415.47 L325.51,415.27 L328.02,415.06 L330.54,414.86 L333.05,414.65 L335.56,414.44 L338.08,414.23 L340.59,414.02 L343.10,413.81 L345.61,413.60 L348.13,413.39 L350.64,413.18 L353.15,412.97 L355.67,412.75 L358.18,412.54 L360.69,412.32 L363.20,412.10 L365.72,411.89 L368.23,411.67 L370.74,411.45 L373.26,411.23 L375.77,411.01 L378.28,410.79 L380.79,410.57 L383.31,410.34 L385.82,410.12 L388.33,409.89 L390.85,409.67 L393.36,409.44 L395.87,409.22 L398.38,408.99 L400.90,408.76 L403.41,408.53 L405.92,408.30 L408.44,408.07 L410.95,407.84 L413.46,407.60 L415.97,407.37 L418.49,407.14 L421.00,406.90" fill="none" stroke="#1c1c1c" stroke-width="1.8" stroke-linecap="butt" stroke-linejoin="round"/>
<path d="M238.00,426.50 L240.51,426.23 L243.02,425.96 L245.52,425.69 L248.03,425.43 L250.54,425.18 L253.05,424.93 L255.55,424.68 L258.06,424.44 L260.57,424.20 L263.08,423.96 L265.59,423.73 L268.09,423.51 L270.60,423.29 L273.11,423.07 L275.62,422.86 L278.12,422.65 L280.63,422.44 L283.14,422.24 L285.65,422.05 L288.16,421.86 L290.66,421.67 L293.17,421.49 L295.68,421.31 L298.19,421.13 L300.70,420.96 L303.20,420.80 L305.71,420.64 L308.22,420.48 L310.73,420.33 L313.23,420.18 L315.74,420.04 L318.25,419.90 L320.76,419.76 L323.27,419.63 L325.77,419.50 L328.28,419.38 L330.79,419.26 L333.30,419.15 L335.80,419.04 L338.31,418.93 L340.82,418.83 L343.33,418.74 L345.84,418.64 L348.34,418.56 L350.85,418.47 L353.36,418.39 L355.87,418.32 L358.38,418.25 L360.88,418.18 L363.39,418.12 L365.90,418.06 L368.41,418.01 L370.91,417.96 L373.42,417.91 L375.93,417.87 L378.44,417.84 L380.95,417.80 L383.45,417.78 L385.96,417.75 L388.47,417.73 L390.98,417.72 L393.48,417.71 L395.99,417.70 L398.50,417.70" fill="none" stroke="#1c1c1c" stroke-width="1.8" stroke-linecap="butt" stroke-linejoin="round"/>
<path d="M238.00,427.30 L240.52,427.16 L243.04,427.02 L245.56,426.88 L248.09,426.74 L250.61,426.61 L253.13,426.48 L255.65,426.35 L258.17,426.23 L260.69,426.10 L263.21,425.98 L265.74,425.87 L268.26,425.75 L270.78,425.64 L273.30,425.53 L275.82,425.43 L278.34,425.32 L280.86,425.22 L283.39,425.13 L285.91,425.03 L288.43,424.94 L290.95,424.85 L293.47,424.76 L295.99,424.68 L298.51,424.59 L301.04,424.52 L303.56,424.44 L306.08,424.37 L308.60,424.29 L311.12,424.23 L313.64,424.16 L316.16,424.10 L318.69,424.04 L321.21,423.98 L323.73,423.92 L326.25,423.87 L328.77,423.82 L331.29,423.78 L333.81,423.73 L336.34,423.69 L338.86,423.65 L341.38,423.62 L343.90,423.58 L346.42,423.55 L348.94,423.52 L351.46,423.50 L353.99,423.48 L356.51,423.46 L359.03,423.44 L361.55,423.43 L364.07,423.41 L366.59,423.40 L369.11,423.40 L371.64,423.39 L374.16,423.39 L376.68,423.40 L379.20,423.40" fill="none" stroke="#1c1c1c" stroke-width="1.8" stroke-linecap="butt" stroke-linejoin="round"/>
<path d="M238.00,432.30 L240.52,432.23 L243.04,432.17 L245.56,432.10 L248.09,432.03 L250.61,431.96 L253.13,431.89 L255.65,431.82 L258.17,431.75 L260.69,431.68 L263.21,431.61 L265.74,431.53 L268.26,431.46 L270.78,431.39 L273.30,431.31 L275.82,431.24 L278.34,431.16 L280.86,431.09 L283.39,431.01 L285.91,430.93 L288.43,430.86 L290.95,430.78 L293.47,430.70 L295.99,430.62 L298.51,430.54 L301.04,430.46 L303.56,430.38 L306.08,430.30 L308.60,430.22 L311.12,430.13 L313.64,430.05 L316.16,429.97 L318.69,429.88 L321.21,429.80 L323.73,429.71 L326.25,429.63 L328.77,429.54 L331.29,429.46 L333.81,429.37 L336.34,429.28 L338.86,429.19 L341.38,429.10 L343.90,429.01 L346.42,428.92 L348.94,428.83 L351.46,428.74 L353.99,428.65 L356.51,428.56 L359.03,428.46 L361.55,428.37 L364.07,428.28 L366.59,428.18 L369.11,428.09 L371.64,427.99 L374.16,427.89 L376.68,427.80 L379.20,427.70" fill="none" stroke="#1c1c1c" stroke-width="1.8" stroke-linecap="butt" stroke-linejoin="round"/>
<path d="M238.00,434.90 L240.52,434.87 L243.04,434.84 L245.56,434.81 L248.08,434.78 L250.60,434.75 L253.11,434.71 L255.63,434.68 L258.15,434.65 L260.67,434.61 L263.19,434.58 L265.71,434.54 L268.23,434.50 L270.75,434.47 L273.27,434.43 L275.79,434.39 L278.30,434.35 L280.82,434.31 L283.34,434.27 L285.86,434.23 L288.38,434.19 L290.90,434.14 L293.42,434.10 L295.94,434.06 L298.46,434.01 L300.98,433.97 L303.50,433.92 L306.01,433.87 L308.53,433.83 L311.05,433.78 L313.57,433.73 L316.09,433.68 L318.61,433.63 L321.13,433.58 L323.65,433.53 L326.17,433.48 L328.69,433.43 L331.20,433.37 L333.72,433.32 L336.24,433.27 L338.76,433.21 L341.28,433.16 L343.80,433.10" fill="none" stroke="#1c1c1c" stroke-width="1.8" stroke-linecap="butt" stroke-linejoin="round"/>
<text x="465.40" y="396.94" font-size="8.2" font-weight="bold" fill="#262626" stroke="#262626" stroke-width="0.15">A</text>
<text x="423.80" y="404.74" font-size="8.2" font-weight="bold" fill="#262626" stroke="#262626" stroke-width="0.15">B</text>
<text x="423.00" y="414.44" font-size="8.2" font-weight="bold" fill="#262626" stroke="#262626" stroke-width="0.15">C</text>
<text x="400.80" y="420.34" font-size="8.2" font-weight="bold" fill="#262626" stroke="#262626" stroke-width="0.15">D</text>
<text x="381.20" y="426.04" font-size="8.2" font-weight="bold" fill="#262626" stroke="#262626" stroke-width="0.15">E</text>
<text x="382.00" y="435.74" font-size="8.2" font-weight="bold" fill="#262626" stroke="#262626" stroke-width="0.15">F</text>
<text x="345.80" y="436.74" font-size="8.2" font-weight="bold" fill="#262626" stroke="#262626" stroke-width="0.15">G</text>
<line x1="182.36" y1="468.70" x2="182.36" y2="575.80" stroke="#b4b4b4" stroke-width="0.9"/>
<line x1="217.32" y1="468.70" x2="217.32" y2="575.80" stroke="#b4b4b4" stroke-width="0.9"/>
<line x1="252.28" y1="468.70" x2="252.28" y2="575.80" stroke="#b4b4b4" stroke-width="0.9"/>
<line x1="287.24" y1="468.70" x2="287.24" y2="575.80" stroke="#b4b4b4" stroke-width="0.9"/>
<line x1="322.20" y1="468.70" x2="322.20" y2="575.80" stroke="#b4b4b4" stroke-width="0.9"/>
<line x1="357.16" y1="468.70" x2="357.16" y2="575.80" stroke="#b4b4b4" stroke-width="0.9"/>
<line x1="392.12" y1="468.70" x2="392.12" y2="575.80" stroke="#b4b4b4" stroke-width="0.9"/>
<line x1="427.08" y1="468.70" x2="427.08" y2="575.80" stroke="#b4b4b4" stroke-width="0.9"/>
<line x1="462.04" y1="468.70" x2="462.04" y2="575.80" stroke="#b4b4b4" stroke-width="0.9"/>
<line x1="147.40" y1="557.95" x2="497.00" y2="557.95" stroke="#b4b4b4" stroke-width="0.9"/>
<line x1="147.40" y1="540.10" x2="497.00" y2="540.10" stroke="#b4b4b4" stroke-width="0.9"/>
<line x1="147.40" y1="522.25" x2="497.00" y2="522.25" stroke="#b4b4b4" stroke-width="0.9"/>
<line x1="147.40" y1="504.40" x2="497.00" y2="504.40" stroke="#b4b4b4" stroke-width="0.9"/>
<line x1="147.40" y1="486.55" x2="497.00" y2="486.55" stroke="#b4b4b4" stroke-width="0.9"/>
<line x1="147.40" y1="468.70" x2="497.00" y2="468.70" stroke="#a4a4a4" stroke-width="1.6"/>
<line x1="147.40" y1="575.80" x2="497.00" y2="575.80" stroke="#9a9a9a" stroke-width="1.4"/>
<line x1="147.40" y1="468.20" x2="147.40" y2="576.30" stroke="#8a8a8a" stroke-width="1.0"/>
<line x1="497.00" y1="468.20" x2="497.00" y2="576.30" stroke="#8a8a8a" stroke-width="1.0"/>
<line x1="144.80" y1="575.80" x2="147.40" y2="575.80" stroke="#858585" stroke-width="0.9"/>
<text x="142.50" y="578.14" font-size="8.2" text-anchor="end" stroke="#2f2f2f" stroke-width="0.3">2</text>
<line x1="144.80" y1="540.10" x2="147.40" y2="540.10" stroke="#858585" stroke-width="0.9"/>
<text x="142.50" y="542.44" font-size="8.2" text-anchor="end" stroke="#2f2f2f" stroke-width="0.3">5</text>
<line x1="144.80" y1="504.40" x2="147.40" y2="504.40" stroke="#858585" stroke-width="0.9"/>
<text x="142.50" y="506.74" font-size="8.2" text-anchor="end" stroke="#2f2f2f" stroke-width="0.3">8</text>
<line x1="144.80" y1="468.70" x2="147.40" y2="468.70" stroke="#858585" stroke-width="0.9"/>
<text x="142.50" y="471.04" font-size="8.2" text-anchor="end" stroke="#2f2f2f" stroke-width="0.3">11</text>
<line x1="145.80" y1="557.95" x2="148.40" y2="557.95" stroke="#858585" stroke-width="0.8"/>
<line x1="145.80" y1="522.25" x2="148.40" y2="522.25" stroke="#858585" stroke-width="0.8"/>
<line x1="145.80" y1="486.55" x2="148.40" y2="486.55" stroke="#858585" stroke-width="0.8"/>
<line x1="497.00" y1="570.58" x2="499.80" y2="570.58" stroke="#858585" stroke-width="0.9"/>
<text x="502.00" y="572.92" font-size="8.2" stroke="#2f2f2f" stroke-width="0.3">8</text>
<line x1="497.00" y1="541.57" x2="499.80" y2="541.57" stroke="#858585" stroke-width="0.9"/>
<text x="502.00" y="543.90" font-size="8.2" stroke="#2f2f2f" stroke-width="0.3">16</text>
<line x1="497.00" y1="512.55" x2="499.80" y2="512.55" stroke="#858585" stroke-width="0.9"/>
<text x="502.00" y="514.88" font-size="8.2" stroke="#2f2f2f" stroke-width="0.3">24</text>
<line x1="497.00" y1="483.53" x2="499.80" y2="483.53" stroke="#858585" stroke-width="0.9"/>
<text x="502.00" y="485.87" font-size="8.2" stroke="#2f2f2f" stroke-width="0.3">32</text>
<line x1="497.00" y1="556.07" x2="498.60" y2="556.07" stroke="#858585" stroke-width="0.8"/>
<line x1="497.00" y1="527.06" x2="498.60" y2="527.06" stroke="#858585" stroke-width="0.8"/>
<line x1="497.00" y1="498.04" x2="498.60" y2="498.04" stroke="#858585" stroke-width="0.8"/>
<text x="95.00" y="479.65" font-size="8.8" font-style="italic" textLength="39.20" lengthAdjust="spacingAndGlyphs" stroke="#2f2f2f" stroke-width="0.3">NPSHr[m]</text>
<text x="510.40" y="478.15" font-size="8.8" font-style="italic" textLength="37.60" lengthAdjust="spacingAndGlyphs" stroke="#2f2f2f" stroke-width="0.3">NPSHr[ft]</text>
<path d="M189.30,546.07 L191.80,545.35 L194.30,544.63 L196.81,543.90 L199.31,543.18 L201.81,542.46 L204.31,541.74 L206.82,541.02 L209.32,540.30 L211.82,539.58 L214.32,538.86 L216.83,538.14 L219.33,537.42 L221.83,536.70 L224.33,535.98 L226.84,535.26 L229.34,534.54 L231.84,533.82 L234.34,533.10 L236.85,532.38 L239.35,531.66 L241.85,530.94 L244.35,530.22 L246.85,529.50 L249.36,528.78 L251.86,528.06 L254.36,527.34 L256.86,526.63 L259.37,525.91 L261.87,525.19 L264.37,524.47 L266.87,523.75 L269.38,523.04 L271.88,522.32 L274.38,521.60 L276.88,520.88 L279.39,520.17 L281.89,519.45 L284.39,518.73 L286.89,518.01 L289.40,517.30 L291.90,516.58 L294.40,515.86 L296.90,515.15 L299.40,514.43 L301.91,513.72 L304.41,513.00 L306.91,512.28 L309.41,511.57 L311.92,510.85 L314.42,510.14 L316.92,509.42 L319.42,508.71 L321.93,507.99 L324.43,507.28 L326.93,506.56 L329.43,505.85 L331.94,505.13 L334.44,504.42 L336.94,503.70 L339.44,502.99 L341.95,502.27 L344.45,501.56 L346.95,500.85 L349.45,500.13 L351.95,499.42 L354.46,498.71 L356.96,497.99 L359.46,497.28 L361.96,496.57 L364.47,495.85 L366.97,495.14 L369.47,494.43 L371.97,493.72 L374.48,493.00 L376.98,492.29 L379.48,491.58 L381.98,490.87 L384.49,490.15 L386.99,489.44 L389.49,488.73 L391.99,488.02 L394.50,487.31 L397.00,486.60 L399.50,485.89" fill="none" stroke="#1c1c1c" stroke-width="1.5" stroke-linecap="butt" stroke-linejoin="round"/>
<path d="M189.30,552.26 L191.82,551.74 L194.34,551.22 L196.86,550.69 L199.38,550.16 L201.90,549.62 L204.42,549.08 L206.94,548.53 L209.46,547.97 L211.98,547.42 L214.50,546.85 L217.03,546.28 L219.55,545.71 L222.07,545.13 L224.59,544.55 L227.11,543.96 L229.63,543.37 L232.15,542.77 L234.67,542.17 L237.19,541.56 L239.71,540.95 L242.23,540.33 L244.75,539.71 L247.27,539.08 L249.79,538.45 L252.31,537.81 L254.83,537.17 L257.35,536.52 L259.87,535.87 L262.39,535.21 L264.91,534.55 L267.43,533.88 L269.96,533.21 L272.48,532.53 L275.00,531.85 L277.52,531.16 L280.04,530.47 L282.56,529.78 L285.08,529.07 L287.60,528.37 L290.12,527.66 L292.64,526.94 L295.16,526.22 L297.68,525.49 L300.20,524.76 L302.72,524.02 L305.24,523.28 L307.76,522.54 L310.28,521.79 L312.80,521.03 L315.32,520.27 L317.84,519.50 L320.37,518.73 L322.89,517.96 L325.41,517.18 L327.93,516.39 L330.45,515.60 L332.97,514.81 L335.49,514.00 L338.01,513.20 L340.53,512.39 L343.05,511.57 L345.57,510.75 L348.09,509.93 L350.61,509.10 L353.13,508.26 L355.65,507.42 L358.17,506.58 L360.69,505.73 L363.21,504.87 L365.73,504.01 L368.25,503.15 L370.77,502.28 L373.30,501.41 L375.82,500.53 L378.34,499.64 L380.86,498.75 L383.38,497.86 L385.90,496.96 L388.42,496.05 L390.94,495.15 L393.46,494.23 L395.98,493.31 L398.50,492.39" fill="none" stroke="#1c1c1c" stroke-width="1.5" stroke-linecap="butt" stroke-linejoin="round"/>
<path d="M189.30,564.11 L191.82,563.70 L194.34,563.29 L196.86,562.88 L199.38,562.47 L201.90,562.05 L204.43,561.63 L206.95,561.21 L209.47,560.78 L211.99,560.34 L214.51,559.90 L217.03,559.44 L219.55,558.98 L222.07,558.51 L224.59,558.03 L227.11,557.53 L229.63,557.02 L232.16,556.50 L234.68,555.97 L237.20,555.42 L239.72,554.85 L242.24,554.26 L244.76,553.66 L247.28,553.04 L249.80,552.40 L252.32,551.74 L254.84,551.06 L257.36,550.35 L259.89,549.62 L262.41,548.87 L264.93,548.10 L267.45,547.29 L269.97,546.46 L272.49,545.61 L275.01,544.72 L277.53,543.81 L280.05,542.86 L282.57,541.89 L285.09,540.88 L287.61,539.84 L290.14,538.77 L292.66,537.66 L295.18,536.51 L297.70,535.33 L300.22,534.10 L302.74,532.84 L305.26,531.53 L307.78,530.18 L310.30,528.78 L312.82,527.34 L315.34,525.84 L317.87,524.30 L320.39,522.70 L322.91,521.05 L325.43,519.34 L327.95,517.58 L330.47,515.76 L332.99,513.87 L335.51,511.93 L338.03,509.93 L340.55,507.86 L343.07,505.72 L345.60,503.52 L348.12,501.24 L350.64,498.90 L353.16,496.48 L355.68,493.99 L358.20,491.43" fill="none" stroke="#1c1c1c" stroke-width="1.5" stroke-linecap="butt" stroke-linejoin="round"/>
<path d="M189.30,564.05 L191.83,563.57 L194.35,563.10 L196.88,562.66 L199.40,562.24 L201.93,561.84 L204.45,561.45 L206.98,561.08 L209.50,560.73 L212.03,560.39 L214.55,560.06 L217.08,559.74 L219.60,559.44 L222.13,559.14 L224.65,558.86 L227.18,558.57 L229.70,558.30 L232.23,558.03 L234.76,557.76 L237.28,557.50 L239.81,557.23 L242.33,556.97 L244.86,556.70 L247.38,556.44 L249.91,556.16 L252.43,555.89 L254.96,555.61 L257.48,555.32 L260.01,555.02 L262.53,554.71 L265.06,554.39 L267.58,554.06 L270.11,553.72 L272.63,553.36 L275.16,552.99 L277.69,552.59 L280.21,552.19 L282.74,551.76 L285.26,551.31 L287.79,550.84 L290.31,550.35 L292.84,549.84 L295.36,549.30 L297.89,548.73 L300.41,548.14 L302.94,547.52 L305.46,546.86 L307.99,546.18 L310.51,545.47 L313.04,544.72 L315.57,543.94 L318.09,543.12 L320.62,542.27 L323.14,541.37 L325.67,540.44 L328.19,539.47 L330.72,538.46 L333.24,537.40 L335.77,536.30 L338.29,535.16 L340.82,533.97 L343.34,532.73 L345.87,531.44 L348.39,530.10 L350.92,528.72 L353.44,527.28 L355.97,525.79 L358.50,524.25 L361.02,522.67 L363.55,521.04 L366.07,519.36 L368.60,517.65 L371.12,515.88 L373.65,514.08 L376.17,512.24 L378.70,510.36 L381.22,508.45 L383.75,506.50 L386.27,504.51 L388.80,502.51 L391.32,500.63 L393.85,499.09 L396.37,498.08 L398.90,497.84" fill="none" stroke="#1c1c1c" stroke-width="1.5" stroke-linecap="butt" stroke-linejoin="round"/>
<path d="M189.30,564.02 L191.83,563.61 L194.35,563.21 L196.88,562.83 L199.40,562.46 L201.93,562.11 L204.45,561.77 L206.98,561.45 L209.50,561.14 L212.03,560.84 L214.55,560.54 L217.08,560.26 L219.60,559.99 L222.13,559.72 L224.65,559.46 L227.18,559.21 L229.70,558.96 L232.23,558.71 L234.76,558.47 L237.28,558.23 L239.81,557.99 L242.33,557.75 L244.86,557.52 L247.38,557.28 L249.91,557.04 L252.43,556.79 L254.96,556.54 L257.48,556.29 L260.01,556.03 L262.53,555.77 L265.06,555.49 L267.58,555.21 L270.11,554.93 L272.63,554.63 L275.16,554.32 L277.69,553.99 L280.21,553.66 L282.74,553.31 L285.26,552.95 L287.79,552.57 L290.31,552.18 L292.84,551.77 L295.36,551.34 L297.89,550.90 L300.41,550.43 L302.94,549.95 L305.46,549.44 L307.99,548.91 L310.51,548.36 L313.04,547.78 L315.57,547.18 L318.09,546.55 L320.62,545.90 L323.14,545.22 L325.67,544.51 L328.19,543.77 L330.72,543.01 L333.24,542.21 L335.77,541.38 L338.29,540.51 L340.82,539.62 L343.34,538.69 L345.87,537.72 L348.39,536.72 L350.92,535.68 L353.44,534.61 L355.97,533.50 L358.50,532.36 L361.02,531.20 L363.55,530.02 L366.07,528.82 L368.60,527.60 L371.12,526.37 L373.65,525.14 L376.17,523.90 L378.70,522.66 L381.22,521.43 L383.75,520.20 L386.27,518.98 L388.80,517.78 L391.32,516.60 L393.85,515.43 L396.37,514.29 L398.90,513.19" fill="none" stroke="#1c1c1c" stroke-width="1.5" stroke-linecap="butt" stroke-linejoin="round"/>
<path d="M189.30,563.96 L191.81,563.65 L194.33,563.34 L196.84,563.05 L199.36,562.76 L201.87,562.48 L204.38,562.21 L206.90,561.95 L209.41,561.69 L211.93,561.43 L214.44,561.19 L216.95,560.94 L219.47,560.70 L221.98,560.47 L224.50,560.23 L227.01,560.00 L229.52,559.77 L232.04,559.54 L234.55,559.32 L237.07,559.09 L239.58,558.87 L242.09,558.64 L244.61,558.41 L247.12,558.18 L249.64,557.95 L252.15,557.71 L254.66,557.48 L257.18,557.24 L259.69,556.99 L262.21,556.74 L264.72,556.48 L267.23,556.22 L269.75,555.96 L272.26,555.68 L274.78,555.40 L277.29,555.11 L279.80,554.81 L282.32,554.51 L284.83,554.19 L287.35,553.87 L289.86,553.53 L292.37,553.18 L294.89,552.82 L297.40,552.45 L299.92,552.07 L302.43,551.68 L304.94,551.27 L307.46,550.84 L309.97,550.41 L312.49,549.95 L315.00,549.49 L317.51,549.00 L320.03,548.50 L322.54,547.99 L325.06,547.45 L327.57,546.90 L330.08,546.33 L332.60,545.74 L335.11,545.13 L337.63,544.49 L340.14,543.84 L342.65,543.17 L345.17,542.48 L347.68,541.76 L350.20,541.02 L352.71,540.26 L355.22,539.48 L357.74,538.67 L360.25,537.83 L362.77,536.97 L365.28,536.09 L367.79,535.18 L370.31,534.24 L372.82,533.27 L375.34,532.28 L377.85,531.27 L380.36,530.23 L382.88,529.17 L385.39,528.09 L387.91,526.99 L390.42,525.87 L392.93,524.74 L395.45,523.58 L397.96,522.41 L400.48,521.22 L402.99,520.02 L405.50,518.81 L408.02,517.58 L410.53,516.35 L413.05,515.10 L415.56,513.84 L418.07,512.58 L420.59,511.31 L423.10,510.04 L425.62,508.77 L428.13,507.49 L430.64,506.22 L433.16,504.95 L435.67,503.69 L438.19,502.43 L440.70,501.18" fill="none" stroke="#1c1c1c" stroke-width="1.5" stroke-linecap="butt" stroke-linejoin="round"/>
<text x="402.20" y="484.34" font-size="8.2" font-weight="bold" fill="#262626" stroke="#262626" stroke-width="0.15">G</text>
<text x="402.20" y="493.44" font-size="8.2" font-weight="bold" fill="#262626" stroke="#262626" stroke-width="0.15">E-F</text>
<text x="402.00" y="502.04" font-size="8.2" font-weight="bold" fill="#262626" stroke="#262626" stroke-width="0.15">C</text>
<text x="401.40" y="514.44" font-size="8.2" font-weight="bold" fill="#262626" stroke="#262626" stroke-width="0.15">B</text>
<text x="442.40" y="501.34" font-size="8.2" font-weight="bold" fill="#262626" stroke="#262626" stroke-width="0.15">A</text>
<text x="359.60" y="488.34" font-size="8.2" font-weight="bold" fill="#262626" stroke="#262626" stroke-width="0.15">D</text>
<line x1="147.40" y1="603.40" x2="497.00" y2="603.40" stroke="#858585" stroke-width="1.0"/>
<line x1="147.40" y1="600.80" x2="147.40" y2="606.00" stroke="#858585" stroke-width="1.0"/>
<line x1="496.70" y1="601.20" x2="496.70" y2="605.20" stroke="#858585" stroke-width="1.0"/>
<line x1="182.36" y1="600.80" x2="182.36" y2="603.40" stroke="#858585" stroke-width="0.9"/>
<line x1="217.32" y1="600.80" x2="217.32" y2="603.40" stroke="#858585" stroke-width="0.9"/>
<line x1="252.28" y1="600.80" x2="252.28" y2="603.40" stroke="#858585" stroke-width="0.9"/>
<line x1="287.24" y1="600.80" x2="287.24" y2="603.40" stroke="#858585" stroke-width="0.9"/>
<line x1="322.20" y1="600.80" x2="322.20" y2="603.40" stroke="#858585" stroke-width="0.9"/>
<line x1="357.16" y1="600.80" x2="357.16" y2="603.40" stroke="#858585" stroke-width="0.9"/>
<line x1="392.12" y1="600.80" x2="392.12" y2="603.40" stroke="#858585" stroke-width="0.9"/>
<line x1="427.08" y1="600.80" x2="427.08" y2="603.40" stroke="#858585" stroke-width="0.9"/>
<line x1="462.04" y1="600.80" x2="462.04" y2="603.40" stroke="#858585" stroke-width="0.9"/>
<line x1="497.00" y1="600.80" x2="497.00" y2="603.40" stroke="#858585" stroke-width="0.9"/>
<line x1="164.88" y1="602.10" x2="164.88" y2="603.40" stroke="#858585" stroke-width="0.8"/>
<line x1="199.84" y1="602.10" x2="199.84" y2="603.40" stroke="#858585" stroke-width="0.8"/>
<line x1="234.80" y1="602.10" x2="234.80" y2="603.40" stroke="#858585" stroke-width="0.8"/>
<line x1="269.76" y1="602.10" x2="269.76" y2="603.40" stroke="#858585" stroke-width="0.8"/>
<line x1="304.72" y1="602.10" x2="304.72" y2="603.40" stroke="#858585" stroke-width="0.8"/>
<line x1="339.68" y1="602.10" x2="339.68" y2="603.40" stroke="#858585" stroke-width="0.8"/>
<line x1="374.64" y1="602.10" x2="374.64" y2="603.40" stroke="#858585" stroke-width="0.8"/>
<line x1="409.60" y1="602.10" x2="409.60" y2="603.40" stroke="#858585" stroke-width="0.8"/>
<line x1="444.56" y1="602.10" x2="444.56" y2="603.40" stroke="#858585" stroke-width="0.8"/>
<line x1="479.52" y1="602.10" x2="479.52" y2="603.40" stroke="#858585" stroke-width="0.8"/>
<line x1="189.35" y1="603.40" x2="189.35" y2="606.00" stroke="#858585" stroke-width="0.9"/>
<line x1="231.30" y1="603.40" x2="231.30" y2="606.00" stroke="#858585" stroke-width="0.9"/>
<line x1="273.26" y1="603.40" x2="273.26" y2="606.00" stroke="#858585" stroke-width="0.9"/>
<line x1="315.21" y1="603.40" x2="315.21" y2="606.00" stroke="#858585" stroke-width="0.9"/>
<line x1="357.16" y1="603.40" x2="357.16" y2="606.00" stroke="#858585" stroke-width="0.9"/>
<line x1="399.11" y1="603.40" x2="399.11" y2="606.00" stroke="#858585" stroke-width="0.9"/>
<line x1="441.06" y1="603.40" x2="441.06" y2="606.00" stroke="#858585" stroke-width="0.9"/>
<line x1="483.02" y1="603.40" x2="483.02" y2="606.00" stroke="#858585" stroke-width="0.9"/>
<line x1="168.38" y1="603.40" x2="168.38" y2="604.70" stroke="#858585" stroke-width="0.8"/>
<line x1="210.33" y1="603.40" x2="210.33" y2="604.70" stroke="#858585" stroke-width="0.8"/>
<line x1="252.28" y1="603.40" x2="252.28" y2="604.70" stroke="#858585" stroke-width="0.8"/>
<line x1="294.23" y1="603.40" x2="294.23" y2="604.70" stroke="#858585" stroke-width="0.8"/>
<line x1="336.18" y1="603.40" x2="336.18" y2="604.70" stroke="#858585" stroke-width="0.8"/>
<line x1="378.14" y1="603.40" x2="378.14" y2="604.70" stroke="#858585" stroke-width="0.8"/>
<line x1="420.09" y1="603.40" x2="420.09" y2="604.70" stroke="#858585" stroke-width="0.8"/>
<line x1="462.04" y1="603.40" x2="462.04" y2="604.70" stroke="#858585" stroke-width="0.8"/>
<text x="147.40" y="596.24" font-size="8.2" text-anchor="middle" stroke="#2f2f2f" stroke-width="0.3">0</text>
<text x="182.36" y="596.24" font-size="8.2" text-anchor="middle" stroke="#2f2f2f" stroke-width="0.3">25</text>
<text x="217.32" y="596.24" font-size="8.2" text-anchor="middle" stroke="#2f2f2f" stroke-width="0.3">50</text>
<text x="252.28" y="596.24" font-size="8.2" text-anchor="middle" stroke="#2f2f2f" stroke-width="0.3">75</text>
<text x="287.24" y="596.24" font-size="8.2" text-anchor="middle" stroke="#2f2f2f" stroke-width="0.3">100</text>
<text x="322.20" y="596.24" font-size="8.2" text-anchor="middle" stroke="#2f2f2f" stroke-width="0.3">125</text>
<text x="357.16" y="596.24" font-size="8.2" text-anchor="middle" stroke="#2f2f2f" stroke-width="0.3">150</text>
<text x="392.12" y="596.24" font-size="8.2" text-anchor="middle" stroke="#2f2f2f" stroke-width="0.3">175</text>
<text x="427.08" y="596.24" font-size="8.2" text-anchor="middle" stroke="#2f2f2f" stroke-width="0.3">200</text>
<text x="462.04" y="596.24" font-size="8.2" text-anchor="middle" stroke="#2f2f2f" stroke-width="0.3">225</text>
<text x="497.00" y="596.24" font-size="8.2" text-anchor="middle" stroke="#2f2f2f" stroke-width="0.3">250</text>
<text x="142.80" y="614.74" font-size="8.2" text-anchor="middle" stroke="#2f2f2f" stroke-width="0.3">0</text>
<text x="184.70" y="614.74" font-size="8.2" text-anchor="middle" stroke="#2f2f2f" stroke-width="0.3">500</text>
<text x="226.60" y="614.74" font-size="8.2" text-anchor="middle" stroke="#2f2f2f" stroke-width="0.3">1000</text>
<text x="268.50" y="614.74" font-size="8.2" text-anchor="middle" stroke="#2f2f2f" stroke-width="0.3">1500</text>
<text x="310.40" y="614.74" font-size="8.2" text-anchor="middle" stroke="#2f2f2f" stroke-width="0.3">2000</text>
<text x="352.30" y="614.74" font-size="8.2" text-anchor="middle" stroke="#2f2f2f" stroke-width="0.3">2500</text>
<text x="394.20" y="614.74" font-size="8.2" text-anchor="middle" stroke="#2f2f2f" stroke-width="0.3">3000</text>
<text x="436.10" y="614.74" font-size="8.2" text-anchor="middle" stroke="#2f2f2f" stroke-width="0.3">3500</text>
<text x="478.00" y="614.74" font-size="8.2" text-anchor="middle" stroke="#2f2f2f" stroke-width="0.3">4000</text>
<text x="504.40" y="598.55" font-size="8.8" font-style="italic" textLength="29.80" lengthAdjust="spacingAndGlyphs" stroke="#2f2f2f" stroke-width="0.3">Q[m³/h]</text>
<text x="504.00" y="612.95" font-size="8.8" font-style="italic" textLength="31.20" lengthAdjust="spacingAndGlyphs" stroke="#2f2f2f" stroke-width="0.3">Q[l/min]</text>
</g>
</svg>
</body></html>
